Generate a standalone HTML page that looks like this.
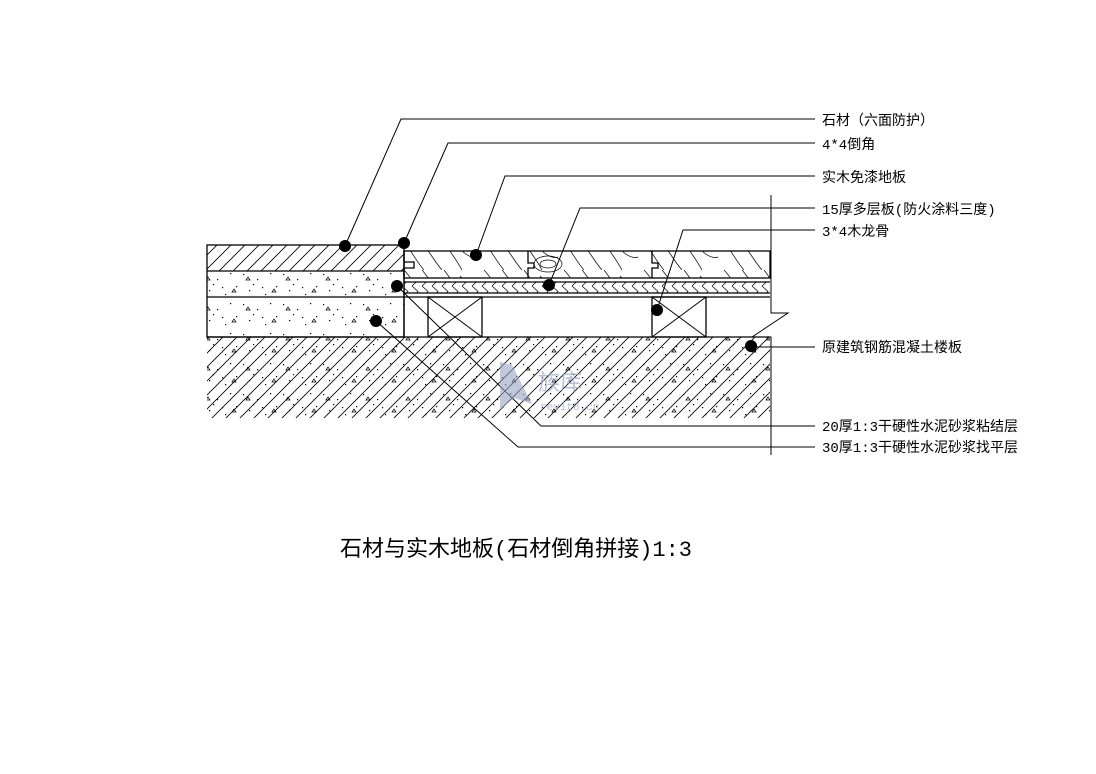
<!DOCTYPE html>
<html><head><meta charset="utf-8"><style>
html,body{margin:0;padding:0;background:#fff;}
svg{display:block}
text{font-family:"Liberation Mono","Noto Sans CJK SC",monospace;fill:#000}
</style></head><body>
<svg width="1096" height="774" viewBox="0 0 1096 774" xmlns="http://www.w3.org/2000/svg">
<defs>
<pattern id="diag" width="14" height="14" patternUnits="userSpaceOnUse">
<path d="M0,14 L14,0 M-2,2 L2,-2 M12,16 L16,12" stroke="#000" stroke-width="0.8"/>
</pattern>
<pattern id="dots" width="40" height="30" patternUnits="userSpaceOnUse">
<g fill="#000">
<rect x="3" y="4" width="1.2" height="1.2"/><rect x="17" y="9" width="1.2" height="1.2"/>
<rect x="30" y="3" width="1.2" height="1.2"/><rect x="9" y="20" width="1.2" height="1.2"/>
<rect x="25" y="24" width="1.2" height="1.2"/><rect x="36" y="16" width="1.2" height="1.2"/>
<rect x="13" y="14" width="1.2" height="1.2"/><rect x="22" y="17" width="1.2" height="1.2"/>
</g>
<path d="M32,22 l2,-3 l2,3 z M6,10 l2,-3 l2,3z" fill="none" stroke="#000" stroke-width="0.7"/>
</pattern>
<pattern id="chev" width="10" height="11" patternUnits="userSpaceOnUse">
<path d="M2,0 L8,5.5 L2,11" fill="none" stroke="#000" stroke-width="0.7"/>
</pattern>
<pattern id="wood" width="80" height="27" patternUnits="userSpaceOnUse">
<path d="M4,0 C12,8 16,18 24,27 M22,0 C30,9 34,18 42,27 M44,0 C50,8 56,16 62,27 M60,6 C66,12 72,16 78,14" fill="none" stroke="#000" stroke-width="0.7"/>
</pattern>
</defs>

<rect x="207" y="337" width="563" height="81" fill="url(#diag)"/>
<rect x="207" y="337" width="563" height="81" fill="url(#dots)"/>
<rect x="207" y="245" width="197" height="26" fill="url(#diag)"/>
<rect x="207" y="271" width="197" height="66" fill="url(#dots)"/>
<rect x="404" y="251" width="366" height="27" fill="url(#wood)"/>
<ellipse cx="548" cy="264" rx="14" ry="8" fill="none" stroke="#000" stroke-width="0.7"/>
<ellipse cx="548" cy="264" rx="8" ry="4" fill="none" stroke="#000" stroke-width="0.7"/>
<rect x="404" y="282" width="366" height="11" fill="url(#chev)"/>

<g fill="none" stroke="#000" stroke-width="1.3">
<rect x="207" y="245" width="197" height="92"/>
<line x1="207" y1="271" x2="404" y2="271"/>
<line x1="207" y1="297" x2="404" y2="297"/>
<line x1="207" y1="337" x2="770" y2="337"/>
<rect x="404" y="251" width="366" height="27"/>
<line x1="404" y1="282" x2="770" y2="282"/>
<line x1="404" y1="293" x2="770" y2="293"/>
<line x1="404" y1="297" x2="770" y2="297"/>
<line x1="404" y1="251" x2="404" y2="337"/>
<rect x="428" y="297" width="54" height="40"/>
<rect x="652" y="297" width="54" height="40"/>
<path d="M528,251 v12 h6 v5 h-6 v10 M652,251 v12 h6 v5 h-6 v10 M404,262 h10 v6 h-10"/>
</g>
<g stroke="#000" stroke-width="1">
<path d="M428,297 L482,337 M482,297 L428,337 M652,297 L706,337 M706,297 L652,337" fill="none"/>
<path d="M771,195 V313 H788 L752,337 H771 V455" fill="none"/>
<path d="M815,119 H401 L345,246" fill="none"/>
<path d="M815,143 H448 L404,243" fill="none"/>
<path d="M815,176 H505 L476,255" fill="none"/>
<path d="M815,208 H580 L549,285" fill="none"/>
<path d="M815,230 H683 L657,310" fill="none"/>
<path d="M815,347 H751" fill="none"/>
<path d="M397,286 L541,426 H815" fill="none"/>
<path d="M376,321 L518,447 H815" fill="none"/>
</g>
<g fill="#000">
<circle cx="345" cy="246" r="6"/><circle cx="404" cy="243" r="6"/>
<circle cx="476" cy="255" r="6"/><circle cx="549" cy="285" r="6"/>
<circle cx="657" cy="310" r="6"/><circle cx="751" cy="346" r="6"/>
<circle cx="397" cy="286" r="6"/><circle cx="376" cy="321" r="6"/>
</g>
<path d="M500,362 L512,365 L532,404 L514,398 L500,410 Z" fill="#9aa4c4" opacity="0.6"/>
<text x="538" y="390" font-size="22" style="fill:#9aa4c4" opacity="0.7">族库</text>
<text x="540" y="410" font-size="11" style="fill:#9aa4c4" opacity="0.7">revit8.cn</text>

<g font-size="14">
<text x="822" y="125">石材（六面防护）</text>
<text x="822" y="149">4*4倒角</text>
<text x="822" y="182">实木免漆地板</text>
<text x="822" y="214">15厚多层板(防火涂料三度)</text>
<text x="822" y="236">3*4木龙骨</text>
<text x="822" y="352">原建筑钢筋混凝土楼板</text>
<text x="822" y="431">20厚1:3干硬性水泥砂浆粘结层</text>
<text x="822" y="452">30厚1:3干硬性水泥砂浆找平层</text>
</g>
<text x="340" y="556" font-size="22">石材与实木地板(石材倒角拼接)1:3</text>
</svg>
</body></html>
